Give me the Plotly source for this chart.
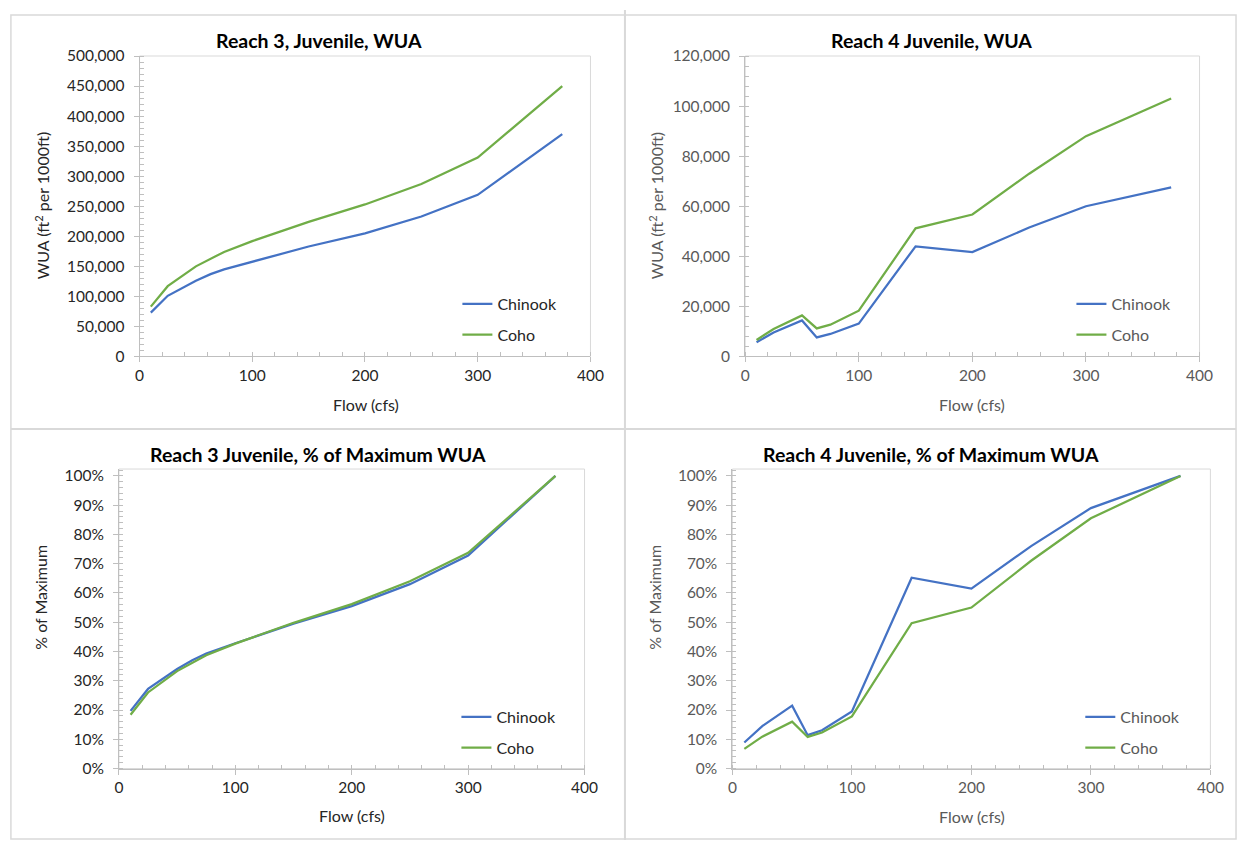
import plotly.graph_objects as go

W, H = 1251, 848

flow = [10, 25, 50, 63, 75, 100, 150, 200, 250, 300, 375]

r3_chinook_wua = [73000, 101000, 126000, 137000, 145000, 158000, 183000, 205000, 233000, 269000, 370000]
r3_coho_wua = [83000, 117000, 150000, 163000, 174000, 192000, 224000, 253000, 287000, 331000, 450000]

r4_chinook_wua = [5700, 9600, 14400, 7600, 9000, 13100, 44000, 41700, 51500, 60000, 67500]
r4_coho_wua = [6600, 11000, 16400, 11200, 12700, 18300, 51200, 56700, 73000, 88000, 103000]

r3_chinook_pct = [19.7, 27.2, 34.0, 37.0, 39.3, 42.8, 49.5, 55.5, 63.0, 72.8, 100.0]
r3_coho_pct = [18.4, 26.0, 33.3, 36.2, 38.7, 42.7, 49.8, 56.2, 64.0, 73.7, 100.0]

r4_chinook_pct = [8.9, 14.5, 21.5, 11.4, 13.1, 19.5, 65.2, 61.5, 76.0, 89.0, 100.0]
r4_coho_pct = [6.7, 10.9, 16.0, 10.8, 12.3, 17.8, 49.7, 55.0, 71.0, 85.5, 100.0]

titles = ["Reach 3, Juvenile, WUA", "Reach 4 Juvenile, WUA",
          "Reach 3 Juvenile, % of Maximum WUA", "Reach 4 Juvenile, % of Maximum WUA"]
series_names = ["Chinook", "Coho"]
colors = ["#4472C4", "#70AD47"]

FONT = "Lato"

def px(x):
    return x / W

def py(y):
    return 1 - y / H

panels = [
    dict(x0=136.5, x1=594, ytop=47, ybot=354, yrange_top=500000, dtick=50000, minor=10000,
         fmt=",d", suffix="", data=[r3_chinook_wua, r3_coho_wua], tc="#262626",
         title_xy=(319, 31), ytitle="WUA (ft<sup>2</sup> per 1000ft)", ytitle_xy=(38, 200),
         xtitle_xy=(366, 403), leg=(459, 283)),
    dict(x0=751, x1=1212, ytop=47, ybot=354, yrange_top=120000, dtick=20000, minor=4000,
         fmt=",d", suffix="", data=[r4_chinook_wua, r4_coho_wua], tc="#595959",
         title_xy=(940, 31), ytitle="WUA (ft<sup>2</sup> per 1000ft)", ytitle_xy=(661, 200),
         xtitle_xy=(981, 403), leg=(1082, 283)),
    dict(x0=115.6, x1=588, ytop=469, ybot=775, yrange_top=100 * 306 / 299, dtick=10, minor=2,
         fmt="d", suffix="%", data=[r3_chinook_pct, r3_coho_pct], tc="#262626",
         title_xy=(318, 454), ytitle="% of Maximum", ytitle_xy=(36, 600),
         xtitle_xy=(352, 823), leg=(458, 705)),
    dict(x0=738, x1=1223, ytop=469, ybot=775, yrange_top=100 * 306 / 299, dtick=10, minor=2,
         fmt="d", suffix="%", data=[r4_chinook_pct, r4_coho_pct], tc="#595959",
         title_xy=(940, 454), ytitle="% of Maximum", ytitle_xy=(659, 600),
         xtitle_xy=(981, 824), leg=(1091, 705)),
]

fig = go.Figure()
layout = dict(
    width=W, height=H, margin=dict(l=0, r=0, t=0, b=0),
    paper_bgcolor="white", plot_bgcolor="white",
    font=dict(family=FONT, size=15, color="#404040"),
    showlegend=True, annotations=[], shapes=[],
)

for i, p in enumerate(panels):
    n = i + 1
    xa = "xaxis" if n == 1 else f"xaxis{n}"
    ya = "yaxis" if n == 1 else f"yaxis{n}"
    xref = "x" if n == 1 else f"x{n}"
    yref = "y" if n == 1 else f"y{n}"
    legname = "legend" if n == 1 else f"legend{n}"
    for k, (name, vals) in enumerate(zip(series_names, p["data"])):
        fig.add_trace(go.Scatter(
            x=flow, y=vals, mode="lines", name=name,
            line=dict(color=colors[k], width=2.25),
            xaxis=xref, yaxis=yref, legend=legname,
            legendgroup=f"{n}-{k}",
        ))
    layout[xa] = dict(
        domain=[px(p["x0"]), px(p["x1"])], anchor=yref, range=[0, 400],
        dtick=100, tick0=0, showgrid=False, zeroline=False,
        showline=True, linecolor="#bfbfbf", linewidth=1,
        ticks="outside", ticklen=5, tickcolor="#bfbfbf",
        minor=dict(dtick=20, ticks="inside", ticklen=4, tickcolor="#bfbfbf", showgrid=False),
        tickfont=dict(family=FONT, size=15.5, color=p["tc"]),
    )
    layout[ya] = dict(
        domain=[py(p["ybot"]), py(p["ytop"])], anchor=xref, range=[0, p["yrange_top"]],
        dtick=p["dtick"], tick0=0, showgrid=False, zeroline=False,
        showline=True, linecolor="#bfbfbf", linewidth=1,
        ticks="outside", ticklen=5, tickcolor="#bfbfbf",
        minor=dict(dtick=p["minor"], ticks="inside", ticklen=4, tickcolor="#bfbfbf", showgrid=False),
        tickformat=p["fmt"], ticksuffix=p["suffix"], ticklabelstandoff=6,
        tickfont=dict(family=FONT, size=15.5, color=p["tc"]),
    )
    layout["shapes"].append(dict(
        type="rect", xref=f"{xref} domain", yref=f"{yref} domain",
        x0=0, x1=1, y0=0, y1=1, line=dict(color="#d9d9d9", width=1), layer="below",
    ))
    layout[legname] = dict(
        x=px(p["leg"][0]), y=py(p["leg"][1]), xanchor="left", yanchor="top",
        bgcolor="rgba(0,0,0,0)", borderwidth=0, tracegroupgap=7,
        font=dict(family=FONT, size=16, color=p["tc"]),
    )
    layout["annotations"].append(dict(
        text=f"<b>{titles[i]}</b>", x=px(p["title_xy"][0]), y=py(p["title_xy"][1]),
        xref="paper", yref="paper", showarrow=False, xanchor="center", yanchor="middle",
        font=dict(family=FONT, size=19.5, color="#000000"),
    ))
    layout["annotations"].append(dict(
        text=p["ytitle"], x=px(p["ytitle_xy"][0]), y=py(p["ytitle_xy"][1]), textangle=-90,
        xref="paper", yref="paper", showarrow=False, xanchor="center", yanchor="middle",
        font=dict(family=FONT, size=16, color=p["tc"]),
    ))
    layout["annotations"].append(dict(
        text="Flow (cfs)", x=px(p["xtitle_xy"][0]), y=py(p["xtitle_xy"][1]),
        xref="paper", yref="paper", showarrow=False, xanchor="center", yanchor="middle",
        font=dict(family=FONT, size=16, color=p["tc"]),
    ))

border = "#d9d9d9"
layout["shapes"] += [
    dict(type="rect", xref="paper", yref="paper", x0=px(6), x1=px(1249), y0=py(847), y1=py(5),
         line=dict(color=border, width=1.5)),
    dict(type="line", xref="paper", yref="paper", x0=px(629), x1=px(629), y0=0, y1=1,
         line=dict(color=border, width=2)),
    dict(type="line", xref="paper", yref="paper", x0=px(6), x1=px(1249), y0=py(428), y1=py(428),
         line=dict(color=border, width=2)),
]

fig.update_layout(**layout)
fig.write_html("out.html", config={"displayModeBar": False},
               post_script="document.body.style.margin='0';document.body.style.overflow='hidden';")
